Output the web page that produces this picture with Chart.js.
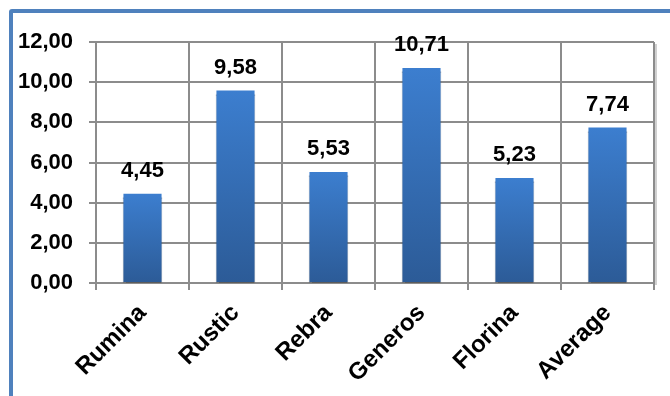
<!DOCTYPE html>
<html>
<head>
<meta charset="utf-8">
<script src="https://cdn.jsdelivr.net/npm/chart.js@4"></script>
<style>
  html, body { margin: 0; padding: 0; background: #fff; overflow: hidden; }
  #wrap { position: relative; width: 670px; height: 396px; }
  #frame {
    position: absolute; left: 9px; top: 9px; width: 700px; height: 420px;
    border: 4px solid #4f81bd; border-radius: 3px; box-sizing: border-box;
  }
  canvas { position: absolute; left: 0; top: 0; }
</style>
</head>
<body>
<div id="wrap">
  <div id="frame"></div>
  <canvas id="myChart" width="670" height="396"></canvas>
</div>
<script>
const varieties = ['Rumina', 'Rustic', 'Rebra', 'Generos', 'Florina', 'Average'];
const values = [4.45, 9.58, 5.53, 10.71, 5.23, 7.74];
const yTicks = [0, 2, 4, 6, 8, 10, 12];

const FONT = 'Liberation Sans, Arial, sans-serif';
const fmt = v => v.toFixed(2).replace('.', ',');

// vertical gradient per bar, lighter at the top
function barGradient(context) {
  const chart = context.chart;
  const { ctx, chartArea, scales } = chart;
  if (!chartArea || !scales.y) return '#3a78c8';
  const top = scales.y.getPixelForValue(values[context.dataIndex]);
  const base = scales.y.getPixelForValue(0);
  const g = ctx.createLinearGradient(0, top, 0, base);
  g.addColorStop(0, '#3c7ecf');
  g.addColorStop(1, '#2c5b97');
  return g;
}

// soft shadow under the bars
const barShadow = {
  id: 'barShadow',
  beforeDatasetsDraw(chart) {
    const ctx = chart.ctx;
    ctx.save();
    ctx.shadowColor = 'rgba(0,0,0,0.35)';
    ctx.shadowOffsetX = 0;
    ctx.shadowOffsetY = 3;
    ctx.shadowBlur = 1;
  },
  afterDatasetsDraw(chart) {
    chart.ctx.restore();
  }
};

// value printed above every bar
const valueLabels = {
  id: 'valueLabels',
  afterDatasetsDraw(chart) {
    const ctx = chart.ctx;
    const meta = chart.getDatasetMeta(0);
    ctx.save();
    ctx.font = 'bold 22px ' + FONT;
    ctx.fillStyle = '#000';
    ctx.textAlign = 'center';
    ctx.textBaseline = 'alphabetic';
    meta.data.forEach((bar, i) => {
      ctx.fillText(fmt(values[i]), bar.x, bar.y - 17);
    });
    ctx.restore();
  }
};

// plot area outline with a light shadow on the right
const plotBorder = {
  id: 'plotBorder',
  beforeDatasetsDraw(chart) {
    const { ctx, chartArea } = chart;
    ctx.save();
    ctx.strokeStyle = '#d0d0d0';
    ctx.lineWidth = 2;
    ctx.beginPath();
    ctx.moveTo(chartArea.right + 2, chartArea.top + 2);
    ctx.lineTo(chartArea.right + 2, chartArea.bottom + 2);
    ctx.stroke();
    ctx.restore();
  }
};

const ctx = document.getElementById('myChart').getContext('2d');

new Chart(ctx, {
  type: 'bar',
  data: {
    labels: varieties,
    datasets: [{
      data: values,
      backgroundColor: barGradient,
      borderWidth: 0,
      categoryPercentage: 1,
      barPercentage: 0.41
    }]
  },
  options: {
    responsive: false,
    animation: false,
    devicePixelRatio: 1,
    layout: { padding: { top: 42, right: 16, left: 0, bottom: 0 } },
    plugins: {
      legend: { display: false },
      tooltip: { enabled: false }
    },
    scales: {
      x: {
        grid: {
          color: '#8c8c8c',
          lineWidth: 2,
          offset: true,
          tickLength: 7,
          drawTicks: true
        },
        border: { color: '#8c8c8c', width: 2 },
        ticks: {
          color: '#000',
          font: { family: FONT, size: 24, weight: 'bold' },
          maxRotation: 45,
          minRotation: 45,
          padding: 9
        },
        afterFit(scale) { scale.height = 396 - 283; }
      },
      y: {
        min: 0,
        max: 12,
        afterBuildTicks(scale) {
          scale.ticks = yTicks.map(v => ({ value: v }));
        },
        grid: { color: '#8c8c8c', lineWidth: 2, tickLength: 7 },
        border: { color: '#8c8c8c', width: 2 },
        ticks: {
          color: '#000',
          font: { family: FONT, size: 22, weight: 'bold' },
          padding: 16,
          callback: v => fmt(v)
        },
        afterFit(scale) { scale.width = 96; }
      }
    }
  },
  plugins: [plotBorder, barShadow, valueLabels]
});
</script>
</body>
</html>
